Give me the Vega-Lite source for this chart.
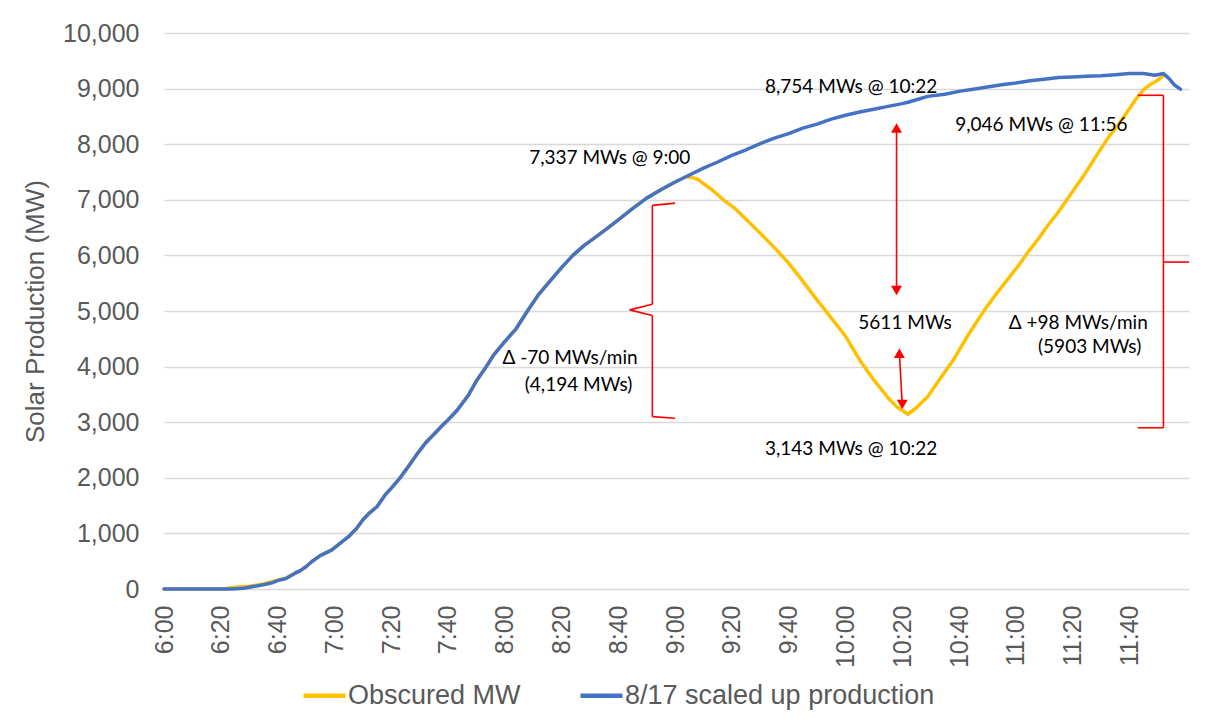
{
  "$schema": "https://vega.github.io/schema/vega-lite/v6.json",
  "width": 1025,
  "height": 556,
  "autosize": "none",
  "padding": {"left": 164, "top": 33, "right": 18, "bottom": 130},
  "background": "white",
  "config": {"view": {"stroke": null}},
  "datasets": {
    "scaled": [
      {"min": 0, "v": 0}, {"min": 10, "v": 0}, {"min": 20, "v": 0}, {"min": 24, "v": 0},
      {"min": 28, "v": 15}, {"min": 31, "v": 40}, {"min": 35, "v": 75}, {"min": 38, "v": 110},
      {"min": 40, "v": 150}, {"min": 43, "v": 190}, {"min": 46, "v": 280}, {"min": 48, "v": 330},
      {"min": 50, "v": 400}, {"min": 52, "v": 490}, {"min": 55, "v": 600}, {"min": 59, "v": 700},
      {"min": 62, "v": 820}, {"min": 65, "v": 940}, {"min": 68, "v": 1100}, {"min": 70, "v": 1240},
      {"min": 72, "v": 1350}, {"min": 75, "v": 1480}, {"min": 78, "v": 1700}, {"min": 80, "v": 1810},
      {"min": 83, "v": 1990}, {"min": 86, "v": 2200}, {"min": 89, "v": 2420}, {"min": 92, "v": 2620},
      {"min": 95, "v": 2780}, {"min": 98, "v": 2940}, {"min": 100, "v": 3040}, {"min": 103, "v": 3200},
      {"min": 107, "v": 3470}, {"min": 110, "v": 3740}, {"min": 113, "v": 3960}, {"min": 116, "v": 4200},
      {"min": 120, "v": 4450}, {"min": 124, "v": 4680}, {"min": 128, "v": 5000}, {"min": 132, "v": 5300},
      {"min": 136, "v": 5540}, {"min": 140, "v": 5780}, {"min": 144, "v": 6000}, {"min": 148, "v": 6180},
      {"min": 152, "v": 6330}, {"min": 156, "v": 6480}, {"min": 160, "v": 6640}, {"min": 165, "v": 6840},
      {"min": 170, "v": 7030}, {"min": 175, "v": 7180}, {"min": 180, "v": 7320}, {"min": 184, "v": 7420},
      {"min": 190, "v": 7570}, {"min": 195, "v": 7680}, {"min": 200, "v": 7800}, {"min": 205, "v": 7900},
      {"min": 210, "v": 8010}, {"min": 215, "v": 8110}, {"min": 220, "v": 8190}, {"min": 225, "v": 8290},
      {"min": 230, "v": 8360}, {"min": 235, "v": 8450}, {"min": 240, "v": 8520}, {"min": 245, "v": 8580},
      {"min": 250, "v": 8630}, {"min": 255, "v": 8680}, {"min": 260, "v": 8730}, {"min": 262, "v": 8754},
      {"min": 265, "v": 8800}, {"min": 269, "v": 8860}, {"min": 275, "v": 8900}, {"min": 280, "v": 8950},
      {"min": 285, "v": 8990}, {"min": 290, "v": 9030}, {"min": 295, "v": 9070}, {"min": 300, "v": 9100},
      {"min": 305, "v": 9140}, {"min": 310, "v": 9170}, {"min": 315, "v": 9200}, {"min": 320, "v": 9210},
      {"min": 325, "v": 9220}, {"min": 330, "v": 9230}, {"min": 335, "v": 9250}, {"min": 340, "v": 9270},
      {"min": 345, "v": 9270}, {"min": 349, "v": 9240}, {"min": 352, "v": 9270}, {"min": 354, "v": 9180},
      {"min": 356, "v": 9060}, {"min": 358, "v": 8990}
    ],
    "obscured": [
      {"min": 0, "v": 0}, {"min": 20, "v": 0}, {"min": 22, "v": 10}, {"min": 25, "v": 30},
      {"min": 30, "v": 50}, {"min": 35, "v": 90}, {"min": 40, "v": 160}, {"min": 43, "v": 200},
      {"min": 46, "v": 280}, {"min": 48, "v": 330}, {"min": 50, "v": 400}, {"min": 52, "v": 490},
      {"min": 55, "v": 600}, {"min": 59, "v": 700}, {"min": 62, "v": 820}, {"min": 65, "v": 940},
      {"min": 68, "v": 1100}, {"min": 70, "v": 1240}, {"min": 72, "v": 1350}, {"min": 75, "v": 1480},
      {"min": 78, "v": 1700}, {"min": 80, "v": 1810}, {"min": 83, "v": 1990}, {"min": 86, "v": 2200},
      {"min": 89, "v": 2420}, {"min": 92, "v": 2620}, {"min": 95, "v": 2780}, {"min": 98, "v": 2940},
      {"min": 100, "v": 3040}, {"min": 103, "v": 3200}, {"min": 107, "v": 3470}, {"min": 110, "v": 3740},
      {"min": 113, "v": 3960}, {"min": 116, "v": 4200}, {"min": 120, "v": 4450}, {"min": 124, "v": 4680},
      {"min": 128, "v": 5000}, {"min": 132, "v": 5300}, {"min": 136, "v": 5540}, {"min": 140, "v": 5780},
      {"min": 144, "v": 6000}, {"min": 148, "v": 6180}, {"min": 152, "v": 6330}, {"min": 156, "v": 6480},
      {"min": 160, "v": 6640}, {"min": 165, "v": 6840}, {"min": 170, "v": 7030}, {"min": 175, "v": 7180},
      {"min": 180, "v": 7320}, {"min": 184, "v": 7420}, {"min": 186, "v": 7400}, {"min": 188, "v": 7370},
      {"min": 190, "v": 7290}, {"min": 193, "v": 7180}, {"min": 197, "v": 7000}, {"min": 201, "v": 6850},
      {"min": 205, "v": 6650}, {"min": 210, "v": 6400}, {"min": 215, "v": 6140}, {"min": 220, "v": 5860},
      {"min": 224, "v": 5600}, {"min": 230, "v": 5200}, {"min": 236, "v": 4810}, {"min": 240, "v": 4550},
      {"min": 245, "v": 4120}, {"min": 250, "v": 3760}, {"min": 255, "v": 3440}, {"min": 258, "v": 3280},
      {"min": 262, "v": 3143}, {"min": 265, "v": 3260}, {"min": 269, "v": 3460}, {"min": 273, "v": 3760},
      {"min": 278, "v": 4120}, {"min": 283, "v": 4550}, {"min": 289, "v": 5020}, {"min": 293, "v": 5300},
      {"min": 297, "v": 5560}, {"min": 301, "v": 5820}, {"min": 304, "v": 6040}, {"min": 308, "v": 6300},
      {"min": 311, "v": 6520}, {"min": 315, "v": 6780}, {"min": 318, "v": 7000}, {"min": 321, "v": 7220},
      {"min": 324, "v": 7440}, {"min": 327, "v": 7680}, {"min": 330, "v": 7920}, {"min": 333, "v": 8150},
      {"min": 336, "v": 8340}, {"min": 339, "v": 8560}, {"min": 342, "v": 8790}, {"min": 345, "v": 8980},
      {"min": 347, "v": 9060}, {"min": 350, "v": 9150}, {"min": 352, "v": 9240}
    ],
    "notes": [
      {"min": 157, "v": 7750, "label": "7,337 MWs @ 9:00"},
      {"min": 242, "v": 9030, "label": "8,754 MWs @ 10:22"},
      {"min": 309, "v": 8350, "label": "9,046 MWs @ 11:56"},
      {"min": 261, "v": 4780, "label": "5611 MWs"},
      {"min": 322, "v": 4780, "label": "Δ +98 MWs/min"},
      {"min": 326, "v": 4350, "label": "(5903 MWs)"},
      {"min": 143, "v": 4150, "label": "Δ -70 MWs/min"},
      {"min": 146, "v": 3670, "label": "(4,194 MWs)"},
      {"min": 242, "v": 2520, "label": "3,143 MWs @ 10:22"}
    ],
    "segments": [
      {"min": 172, "min2": 180, "v": 6900, "v2": 6940},
      {"min": 172, "min2": 172, "v": 6900, "v2": 5120},
      {"min": 172, "min2": 164, "v": 5120, "v2": 5020},
      {"min": 164, "min2": 172, "v": 5020, "v2": 4920},
      {"min": 172, "min2": 172, "v": 4920, "v2": 3100},
      {"min": 172, "min2": 180, "v": 3100, "v2": 3070},
      {"min": 343, "min2": 352, "v": 8880, "v2": 8880},
      {"min": 352, "min2": 352, "v": 8880, "v2": 2900},
      {"min": 343, "min2": 352, "v": 2900, "v2": 2900},
      {"min": 352, "min2": 361, "v": 5880, "v2": 5880},
      {"min": 258, "min2": 258, "v": 8300, "v2": 5370},
      {"min": 259, "min2": 260, "v": 4250, "v2": 3320}
    ],
    "heads": [
      {"min": 258, "v": 8290, "dir": "up"},
      {"min": 258, "v": 5370, "dir": "down"},
      {"min": 259, "v": 4240, "dir": "up"},
      {"min": 260, "v": 3320, "dir": "down"}
    ]
  },
  "encoding": {
    "x": {
      "field": "min",
      "type": "quantitative",
      "scale": {"domain": [0, 361], "nice": false, "zero": false},
      "axis": {
        "title": null,
        "values": [0, 20, 40, 60, 80, 100, 120, 140, 160, 180, 200, 220, 240, 260, 280, 300, 320, 340],
        "labelExpr": "(6 + floor(datum.value / 60)) + ':' + (datum.value % 60 < 10 ? '0' : '') + (datum.value % 60)",
        "labelAngle": -90,
        "labelFont": "Liberation Sans",
        "labelFontSize": 25,
        "labelColor": "#595959",
        "labelPadding": 16,
        "labelFlush": false,
        "labelOverlap": false,
        "labelBound": false,
        "grid": false,
        "domain": false,
        "ticks": false
      }
    },
    "y": {
      "field": "v",
      "type": "quantitative",
      "scale": {"domain": [0, 10000], "nice": false, "zero": true},
      "axis": {
        "title": "Solar Production (MW)",
        "values": [0, 1000, 2000, 3000, 4000, 5000, 6000, 7000, 8000, 9000, 10000],
        "format": ",d",
        "labelFont": "Liberation Sans",
        "labelFontSize": 25,
        "labelColor": "#595959",
        "labelPadding": 25,
        "titleFont": "Liberation Sans",
        "titleFontSize": 26,
        "titleFontWeight": "normal",
        "titleColor": "#595959",
        "titlePadding": 14,
        "grid": true,
        "gridColor": "#d9d9d9",
        "gridWidth": 1.3,
        "domain": false,
        "ticks": false
      }
    }
  },
  "layer": [
    {
      "data": {"name": "obscured"},
      "mark": {"type": "line", "strokeWidth": 3.5, "strokeCap": "round", "strokeJoin": "round"},
      "encoding": {
        "color": {
          "datum": "Obscured MW",
          "type": "nominal",
          "scale": {"domain": ["Obscured MW", "8/17 scaled up production"], "range": ["#FFC000", "#4472C4"]},
          "legend": {
            "title": null,
            "orient": "none",
            "direction": "horizontal",
            "legendX": 137,
            "legendY": 639,
            "padding": 0,
            "symbolType": "stroke",
            "symbolSize": 1764,
            "symbolStrokeWidth": 4.5,
            "labelFont": "Liberation Sans",
            "labelFontSize": 27,
            "labelColor": "#595959",
            "labelOffset": 0,
            "columnPadding": 50,
            "labelLimit": 600
          }
        }
      }
    },
    {
      "data": {"name": "scaled"},
      "mark": {"type": "line", "strokeWidth": 3.5, "strokeCap": "round", "strokeJoin": "round"},
      "encoding": {
        "color": {"datum": "8/17 scaled up production", "type": "nominal"}
      }
    },
    {
      "data": {"name": "segments"},
      "mark": {"type": "rule", "color": "#FF0000", "strokeWidth": 1.6},
      "encoding": {
        "x2": {"field": "min2"},
        "y2": {"field": "v2"}
      }
    },
    {
      "data": {"name": "heads"},
      "mark": {"type": "point", "filled": true, "color": "#FF0000", "opacity": 1, "size": 120},
      "encoding": {
        "shape": {
          "field": "dir",
          "type": "nominal",
          "scale": {"domain": ["up", "down"], "range": ["triangle-up", "triangle-down"]},
          "legend": null
        }
      }
    },
    {
      "data": {"name": "notes"},
      "mark": {"type": "text", "font": "Lato", "fontSize": 19, "color": "#000000", "align": "center", "baseline": "middle"},
      "encoding": {
        "text": {"field": "label"}
      }
    }
  ]
}
